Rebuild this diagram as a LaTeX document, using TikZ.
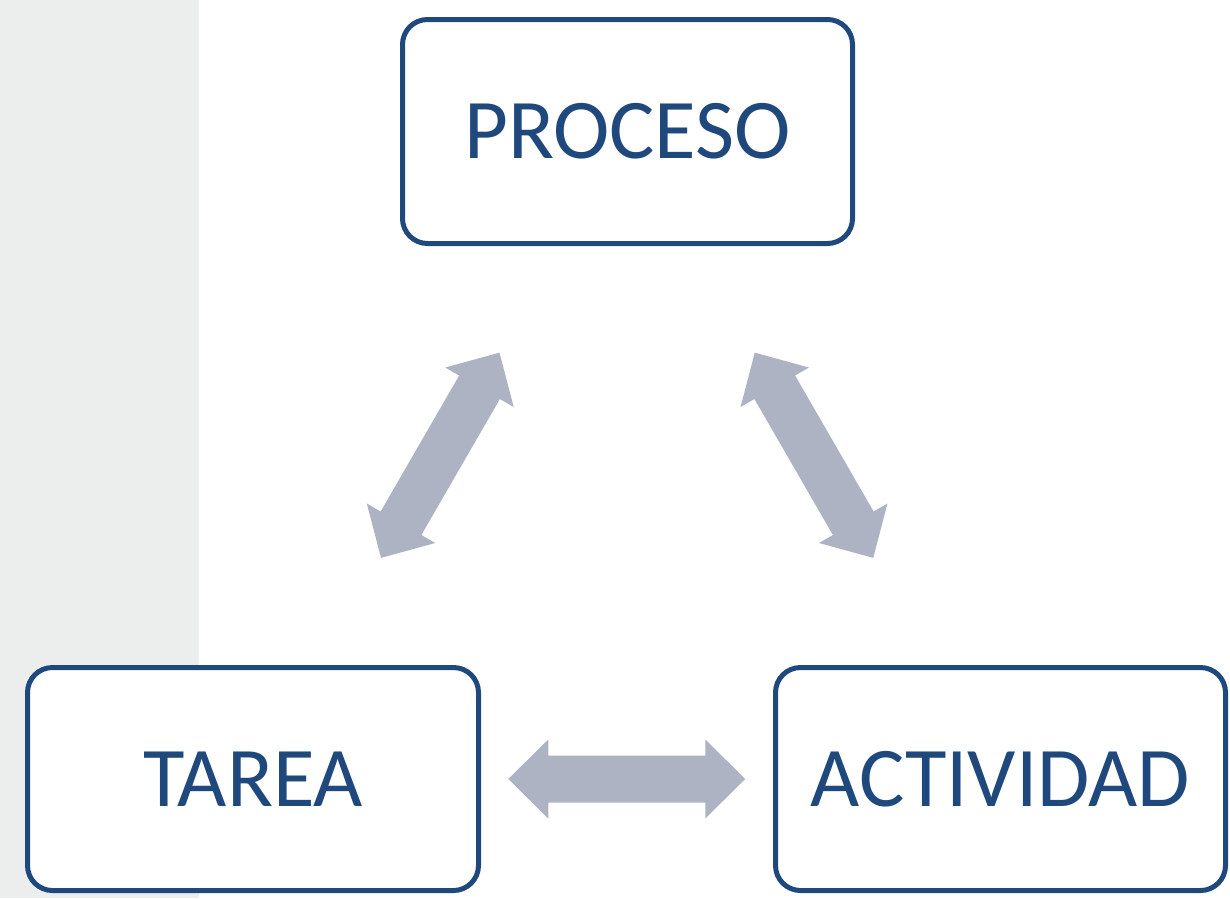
\documentclass[tikz,border=0pt]{standalone}
\usepackage{fontspec}
\setmainfont{Carlito}
\usetikzlibrary{calc}
\definecolor{boxblue}{RGB}{31,73,125}
\definecolor{arrowgray}{RGB}{173,179,194}
\definecolor{stripgray}{RGB}{236,238,237}
\tikzset{
  conceptbox/.style={draw=boxblue, line width=5pt, rounded corners=25pt, fill=white,
    minimum width=450pt, minimum height=224pt, inner sep=0pt,
    text=boxblue, font=\fontsize{85}{100}\selectfont},
  dblarrow/.pic={
    \fill[arrowgray] (-118.5,0) -- (-78.5,39.5) -- (-78.5,23.5) -- (78.5,23.5) -- (78.5,39.5)
      -- (118.5,0) -- (78.5,-39.5) -- (78.5,-23.5) -- (-78.5,-23.5) -- (-78.5,-39.5) -- cycle;
  }
}
\begin{document}
\begin{tikzpicture}[x=1pt,y=-1pt]
\useasboundingbox (0,0) rectangle (1230,898);
\fill[white] (0,0) rectangle (1230,898);
\fill[stripgray] (0,0) rectangle (199,898);
\node[conceptbox] (proceso) at (627.5,131.5) {PROCESO};
\node[conceptbox, minimum width=451pt, minimum height=223pt] (tarea) at (253,779) {TAREA};
\node[conceptbox, minimum height=223pt] (actividad) at (1000.5,779) {ACTIVIDAD};
\pic[rotate=60] at ($(tarea.center)!0.5!(proceso.center)$) {dblarrow};
\pic[rotate=-60] at ($(actividad.center)!0.5!(proceso.center)$) {dblarrow};
\pic at ($(tarea.center)!0.5!(actividad.center)$) {dblarrow};
\end{tikzpicture}
\end{document}
